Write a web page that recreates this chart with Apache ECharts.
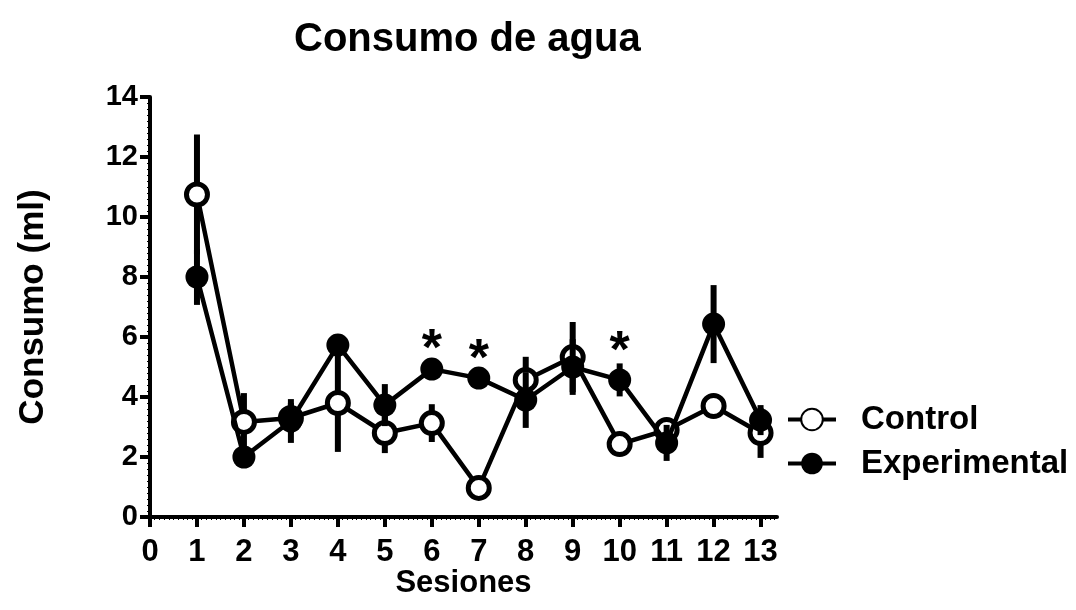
<!DOCTYPE html>
<html>
<head>
<meta charset="utf-8">
<script src="https://cdn.jsdelivr.net/npm/echarts@6/dist/echarts.min.js"></script>
<style>
html,body{margin:0;padding:0;background:#fff;}
#chart{width:1076px;height:610px;}
</style>
</head>
<body>
<div id="chart"></div>
<script>
// ---- data ----
const sessions = [1, 2, 3, 4, 5, 6, 7, 8, 9, 10, 11, 12, 13];
const control = [10.75, 3.17, 3.3, 3.8, 2.8, 3.13, 0.97, 4.57, 5.33, 2.43, 2.9, 3.7, 2.8];
const controlErr = [2.0, 0.96, 0.5, 1.63, 0.67, 0.63, 0.1, 0.77, 1.17, 0.2, 0.3, 0.2, 0.83];
const experimental = [8.0, 2.0, 3.2, 5.73, 3.73, 4.93, 4.63, 3.9, 5.0, 4.57, 2.47, 6.43, 3.23];
const experimentalErr = [0.93, 0.3, 0.73, 0.2, 0.7, 0.2, 0.2, 0.93, 0.93, 0.55, 0.6, 1.3, 0.5];
const sigSessions = [6, 7, 10];
const sigY = [5.9, 5.57, 5.83];
const xTicks = [0, 1, 2, 3, 4, 5, 6, 7, 8, 9, 10, 11, 12, 13];

const FONT = "'Liberation Sans', Arial, Helvetica, sans-serif";
const chart = echarts.init(document.getElementById('chart'), null, {renderer: 'canvas'});

function errData(vals, errs) {
  return sessions.map((s, i) => [s, vals[i] - errs[i], vals[i] + errs[i]]);
}
function errRender(params, api) {
  const x = api.value(0);
  const p1 = api.coord([x, api.value(1)]);
  const p2 = api.coord([x, api.value(2)]);
  return {
    type: 'line',
    shape: {x1: p1[0], y1: p1[1], x2: p2[0], y2: p2[1]},
    style: {stroke: '#000', lineWidth: 6}
  };
}

const option = {
  backgroundColor: '#fff',
  animation: false,
  title: {
    text: 'Consumo de agua',
    left: 289,
    top: 15,
    textStyle: {fontFamily: FONT, fontSize: 40, fontWeight: 'bold', color: '#000'}
  },
  legend: {
    orient: 'vertical',
    left: 781,
    top: 398,
    itemWidth: 48,
    itemHeight: 27,
    itemGap: 11,
    data: ['Control', 'Experimental'],
    lineStyle: {width: 4},
    textStyle: {fontFamily: FONT, fontSize: 33, fontWeight: 'bold', color: '#000', padding: [0, 0, 0, 20]}
  },
  grid: {left: 150, top: 97, right: 299, bottom: 93, containLabel: false},
  xAxis: {
    type: 'value',
    min: 0,
    max: 13.35,
    interval: 1,
    name: 'Sesiones',
    nameLocation: 'middle',
    nameGap: 51,
    nameMoveOverlap: false,
    nameTextStyle: {fontFamily: FONT, fontSize: 31, fontWeight: 'bold', color: '#000'},
    axisLine: {show: true, lineStyle: {color: '#000', width: 4}},
    axisTick: {show: true, length: 10, lineStyle: {color: '#000', width: 4}, customValues: xTicks},
    minorTick: {show: true, splitNumber: 10, length: 3, lineStyle: {color: '#000', width: 1}},
    axisLabel: {
      customValues: xTicks,
      margin: 20,
      fontFamily: FONT, fontSize: 31, fontWeight: 'bold', color: '#000'
    },
    splitLine: {show: false}
  },
  yAxis: {
    type: 'value',
    min: 0,
    max: 14,
    interval: 2,
    name: 'Consumo (ml)',
    nameLocation: 'middle',
    nameGap: 99,
    nameTextStyle: {fontFamily: FONT, fontSize: 35, fontWeight: 'bold', color: '#000'},
    axisLine: {show: true, lineStyle: {color: '#000', width: 4}},
    axisTick: {show: true, length: 10, lineStyle: {color: '#000', width: 4}},
    minorTick: {show: true, splitNumber: 10, length: 3, lineStyle: {color: '#000', width: 1}},
    axisLabel: {
      margin: 12,
      fontFamily: FONT, fontSize: 29, fontWeight: 'bold', color: '#000'
    },
    splitLine: {show: false}
  },
  series: [
    {
      name: 'ControlErr',
      type: 'custom',
      z: 2,
      renderItem: errRender,
      encode: {x: 0, y: [1, 2]},
      data: errData(control, controlErr),
      silent: true
    },
    {
      name: 'Control',
      type: 'line',
      z: 3,
      data: sessions.map((s, i) => [s, control[i]]),
      symbol: 'circle',
      symbolSize: 21,
      lineStyle: {color: '#000', width: 4.5},
      itemStyle: {color: '#fff', borderColor: '#000', borderWidth: 5},
      emphasis: {disabled: true}
    },
    {
      name: 'ExperimentalErr',
      type: 'custom',
      z: 4,
      renderItem: errRender,
      encode: {x: 0, y: [1, 2]},
      data: errData(experimental, experimentalErr),
      silent: true
    },
    {
      name: 'Experimental',
      type: 'line',
      z: 5,
      data: sessions.map((s, i) => [s, experimental[i]]),
      symbol: 'circle',
      symbolSize: 23,
      lineStyle: {color: '#000', width: 4.5},
      itemStyle: {color: '#000', borderColor: '#000', borderWidth: 0},
      emphasis: {disabled: true}
    },
    {
      name: 'sig',
      type: 'scatter',
      z: 6,
      data: sigSessions.map((s, i) => [s, sigY[i]]),
      symbol: 'circle',
      symbolSize: 2,
      itemStyle: {color: 'rgba(0,0,0,0)', opacity: 1},
      label: {
        show: true,
        position: 'inside',
        formatter: '*',
        offset: [0, 11],
        opacity: 1,
        fontFamily: FONT, fontSize: 52, fontWeight: 'bold', color: '#000',
        textBorderWidth: 0
      },
      emphasis: {disabled: true},
      silent: true
    }
  ]
};
chart.setOption(option);
</script>
</body>
</html>
